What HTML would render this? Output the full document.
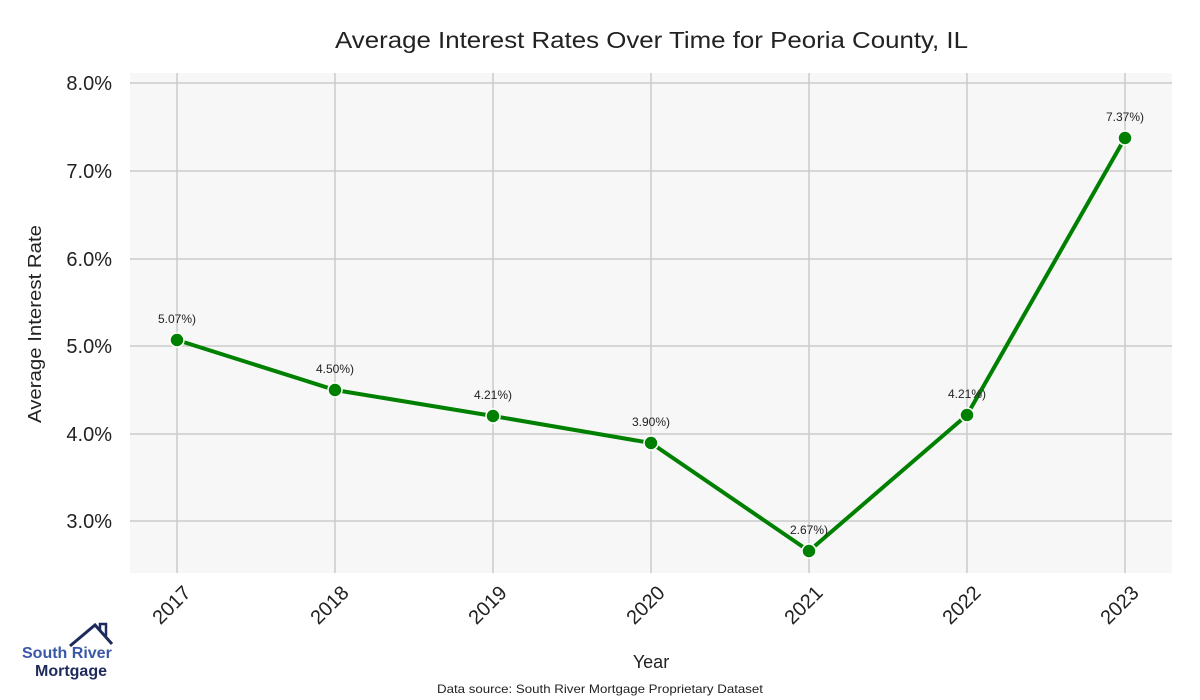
<!DOCTYPE html>
<html><head><style>body{margin:0;background:#fff}svg{display:block}</style></head><body>
<svg width="1200" height="700" xmlns="http://www.w3.org/2000/svg" font-family="Liberation Sans, sans-serif">
<rect width="1200" height="700" fill="#fff"/>
<rect x="130" y="73" width="1042" height="500" fill="#f7f7f7"/>
<g stroke="#cccccc" stroke-width="1.5">
<line x1="130" x2="1172" y1="83" y2="83"/><line x1="130" x2="1172" y1="171" y2="171"/><line x1="130" x2="1172" y1="259" y2="259"/><line x1="130" x2="1172" y1="346" y2="346"/><line x1="130" x2="1172" y1="434" y2="434"/><line x1="130" x2="1172" y1="521" y2="521"/>
<line x1="177" x2="177" y1="73" y2="573"/><line x1="335" x2="335" y1="73" y2="573"/><line x1="493" x2="493" y1="73" y2="573"/><line x1="651" x2="651" y1="73" y2="573"/><line x1="809" x2="809" y1="73" y2="573"/><line x1="967" x2="967" y1="73" y2="573"/><line x1="1125" x2="1125" y1="73" y2="573"/>
</g>
<text x="335" y="48" font-size="23" fill="#222" textLength="633" lengthAdjust="spacingAndGlyphs">Average Interest Rates Over Time for Peoria County, IL</text>
<g font-size="20" fill="#222" text-anchor="end">
<text x="112" y="90">8.0%</text><text x="112" y="178">7.0%</text><text x="112" y="266">6.0%</text><text x="112" y="353">5.0%</text><text x="112" y="441">4.0%</text><text x="112" y="528">3.0%</text>
</g>
<text transform="translate(41,423) rotate(-90)" font-size="18" fill="#222" textLength="198" lengthAdjust="spacingAndGlyphs">Average Interest Rate</text>
<g font-size="20" fill="#222" text-anchor="end">
<text transform="translate(192,594) rotate(-45)">2017</text><text transform="translate(350,594) rotate(-45)">2018</text><text transform="translate(508,594) rotate(-45)">2019</text><text transform="translate(666,594) rotate(-45)">2020</text><text transform="translate(824,594) rotate(-45)">2021</text><text transform="translate(982,594) rotate(-45)">2022</text><text transform="translate(1140,594) rotate(-45)">2023</text>
</g>
<text x="651" y="668" text-anchor="middle" font-size="18" fill="#222">Year</text>
<text x="437" y="693" font-size="12" fill="#222" textLength="326" lengthAdjust="spacingAndGlyphs">Data source: South River Mortgage Proprietary Dataset</text>
<polyline fill="none" stroke="#008000" stroke-width="4" points="177,340 335,390 493,416 651,443 809,551 967,415 1125,138"/>
<g fill="#008000" stroke="#fff" stroke-width="1.5">
<circle cx="177" cy="340" r="7"/><circle cx="335" cy="390" r="7"/><circle cx="493" cy="416" r="7"/><circle cx="651" cy="443" r="7"/><circle cx="809" cy="551" r="7"/><circle cx="967" cy="415" r="7"/><circle cx="1125" cy="138" r="7"/>
</g>
<g font-size="12" fill="#222" text-anchor="middle">
<text x="177" y="323">5.07%)</text><text x="335" y="373">4.50%)</text><text x="493" y="399">4.21%)</text><text x="651" y="426">3.90%)</text><text x="809" y="534">2.67%)</text><text x="967" y="398">4.21%)</text><text x="1125" y="121">7.37%)</text>
</g>
<polyline fill="none" stroke="#1f2a5c" stroke-width="3" points="70,646 95,625 112,644"/>
<polyline fill="none" stroke="#1f2a5c" stroke-width="2.5" points="100,630 100,624 106,624 106,636"/>
<text x="22" y="658" font-size="16" font-weight="bold" fill="#3b57a8">South River</text>
<text x="35" y="676" font-size="16" font-weight="bold" fill="#1f2a5c">Mortgage</text>
</svg>
</body></html>
